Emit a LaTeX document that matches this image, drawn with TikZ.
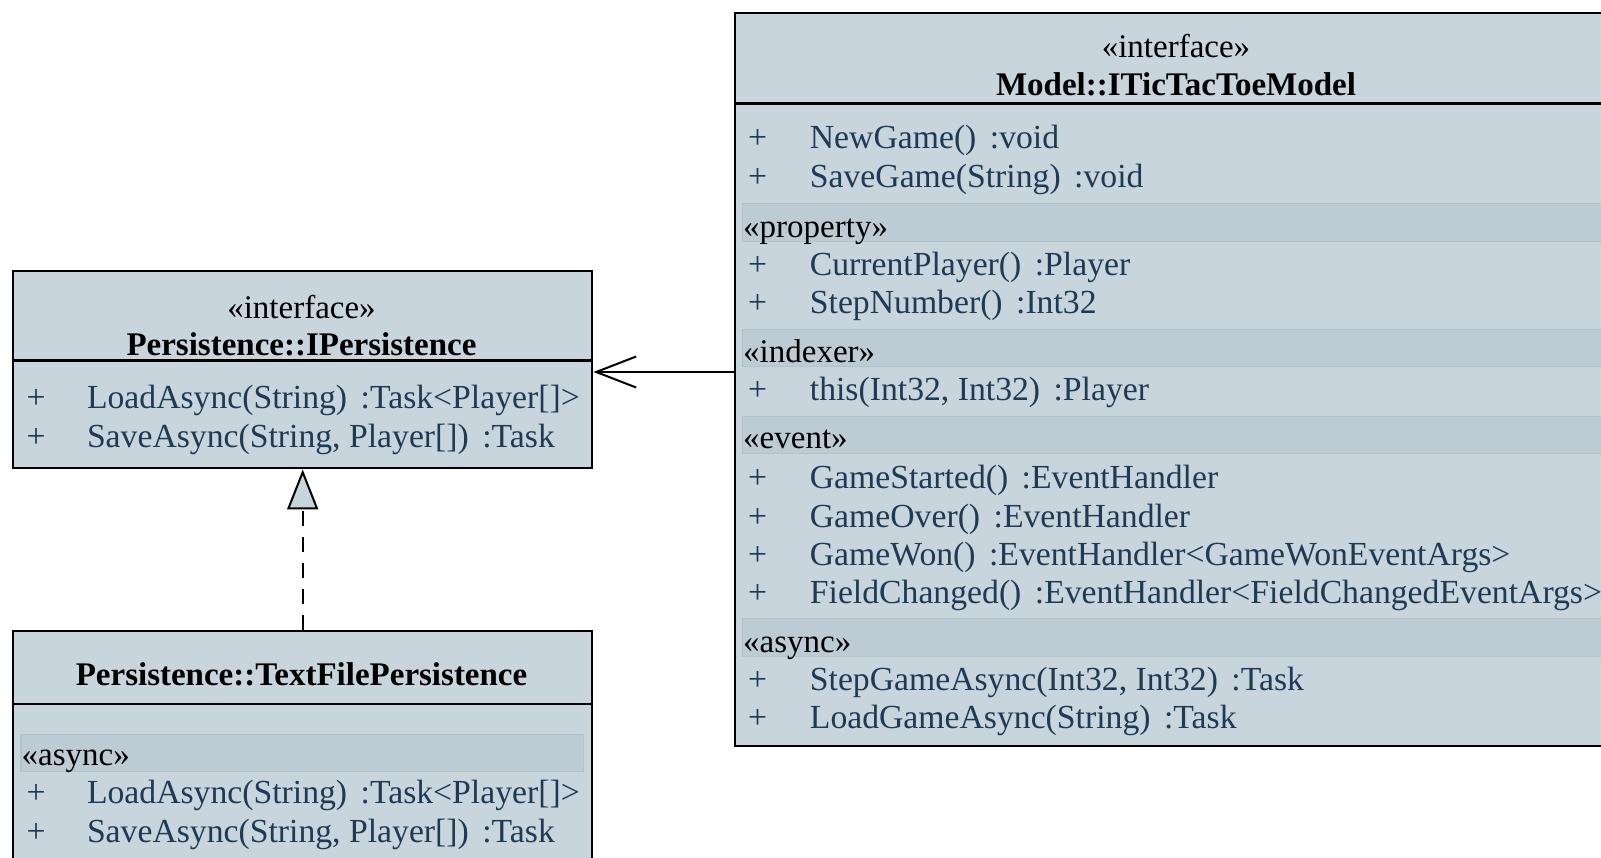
\documentclass[tikz,border=0pt]{standalone}
\usepackage{fontspec}
\setmainfont{Liberation Serif}
\usetikzlibrary{arrows.meta}
\definecolor{boxfill}{HTML}{C8D5DD}
\definecolor{bandfill}{HTML}{BDCBD5}
\definecolor{banddraw}{HTML}{B3C3CE}
\definecolor{membercol}{HTML}{1F3A54}
\newcommand{\mgap}{\hspace{0.4em}}
\tikzset{
  umlbox/.style={draw=black, line width=2.4pt, fill=boxfill, inner sep=0pt, anchor=north west},
  band/.style={draw=banddraw, line width=1.2pt, fill=bandfill, inner sep=0pt, anchor=north west},
  txt/.style={inner sep=0pt, anchor=base, font=\fontsize{33}{38}\selectfont},
  member/.style={txt, anchor=base west, text=membercol, font=\fontsize{33.7}{38}\selectfont},
  stereo/.style={txt, anchor=base west, text=black},
  headst/.style={txt, text=black},
  title/.style={txt, text=black, font=\fontsize{33}{38}\selectfont\bfseries},
  divider/.style={line width=2.4pt},
  conn/.style={line width=2pt, draw=black}
}
\begin{document}
\begin{tikzpicture}[x=1pt,y=-1pt]
\useasboundingbox (0,0) rectangle (1601,857);
\clip (0,0) rectangle (1601,857);
\fill[white] (0,0) rectangle (1601,857);

% ---------- Persistence::IPersistence ----------
\node[umlbox, minimum width=579pt, minimum height=197pt] (P) at (12,270) {};
\draw[divider] (12,360.5) -- (591,360.5);
\node[headst] (Pst) at (301.5,318) {«interface»};
\node[title] (Ptitle) at (301.5,355) {Persistence::IPersistence};
\node[member] (Pp1) at (26.5,408) {+};
\node[member] (Pm1) at (86.8,408) {LoadAsync(String)\mgap:Task<Player[]>};
\node[member] (Pp2) at (26.5,447) {+};
\node[member] (Pm2) at (86.8,447) {SaveAsync(String, Player[])\mgap:Task};

% ---------- Persistence::TextFilePersistence ----------
\node[umlbox, minimum width=579pt, minimum height=300pt] (T) at (12,630) {};
\draw[divider] (12,704) -- (591,704);
\node[title] (Ttitle) at (301.5,685) {Persistence::TextFilePersistence};
\node[band, minimum width=562.6pt, minimum height=37pt] (Tb1) at (20.4,733.5) {};
\node[stereo] (Ts1) at (21.5,765) {«async»};
\node[member] (Tp1) at (26.5,803) {+};
\node[member] (Tm1) at (86.8,803) {LoadAsync(String)\mgap:Task<Player[]>};
\node[member] (Tp2) at (26.5,842) {+};
\node[member] (Tm2) at (86.8,842) {SaveAsync(String, Player[])\mgap:Task};

% ---------- Model::ITicTacToeModel ----------
\node[umlbox, minimum width=884pt, minimum height=733pt] (M) at (734,12) {};
\draw[divider] (734,103.5) -- (1618,103.5);
\node[headst] (Mst) at (1176,57) {«interface»};
\node[title] (Mtitle) at (1176,95) {Model::ITicTacToeModel};

\node[band, minimum width=900pt, minimum height=38pt] (Mb1) at (742,203) {};
\node[band, minimum width=900pt, minimum height=37pt] (Mb2) at (742,329) {};
\node[band, minimum width=900pt, minimum height=37pt] (Mb3) at (742,416) {};
\node[band, minimum width=900pt, minimum height=38pt] (Mb4) at (742,618) {};

\node[member] (Mp1) at (748,148) {+};
\node[member] (Mm1) at (809.7,148) {NewGame()\mgap:void};
\node[member] (Mp2) at (748,187) {+};
\node[member] (Mm2) at (809.7,187) {SaveGame(String)\mgap:void};
\node[stereo] (Ms1) at (743,237) {«property»};
\node[member] (Mp3) at (748,275) {+};
\node[member] (Mm3) at (809.7,275) {CurrentPlayer()\mgap:Player};
\node[member] (Mp4) at (748,313) {+};
\node[member] (Mm4) at (809.7,313) {StepNumber()\mgap:Int32};
\node[stereo] (Ms2) at (743,362) {«indexer»};
\node[member] (Mp5) at (748,400) {+};
\node[member] (Mm5) at (809.7,400) {this(Int32, Int32)\mgap:Player};
\node[stereo] (Ms3) at (743,448) {«event»};
\node[member] (Mp6) at (748,488) {+};
\node[member] (Mm6) at (809.7,488) {GameStarted()\mgap:EventHandler};
\node[member] (Mp7) at (748,527) {+};
\node[member] (Mm7) at (809.7,527) {GameOver()\mgap:EventHandler};
\node[member] (Mp8) at (748,565) {+};
\node[member] (Mm8) at (809.7,565) {GameWon()\mgap:EventHandler<GameWonEventArgs>};
\node[member] (Mp9) at (748,603) {+};
\node[member] (Mm9) at (809.7,603) {FieldChanged()\mgap:EventHandler<FieldChangedEventArgs>};
\node[stereo] (Ms4) at (743,652) {«async»};
\node[member] (Mp10) at (748,690) {+};
\node[member] (Mm10) at (809.7,690) {StepGameAsync(Int32, Int32)\mgap:Task};
\node[member] (Mp11) at (748,728) {+};
\node[member] (Mm11) at (809.7,728) {LoadGameAsync(String)\mgap:Task};

% ---------- connectors ----------
\coordinate (ay) at (0,372);
\draw[conn, -{Straight Barb[length=40pt, width=31pt, line width=2pt]}] (M.west |- ay) -- (P.east |- ay);
\draw[conn, dash pattern=on 15pt off 11pt,
  -{Triangle[length=40pt, width=31pt, fill=boxfill, line width=2pt]}] (T.north) -- (P.south);
\end{tikzpicture}
\end{document}
